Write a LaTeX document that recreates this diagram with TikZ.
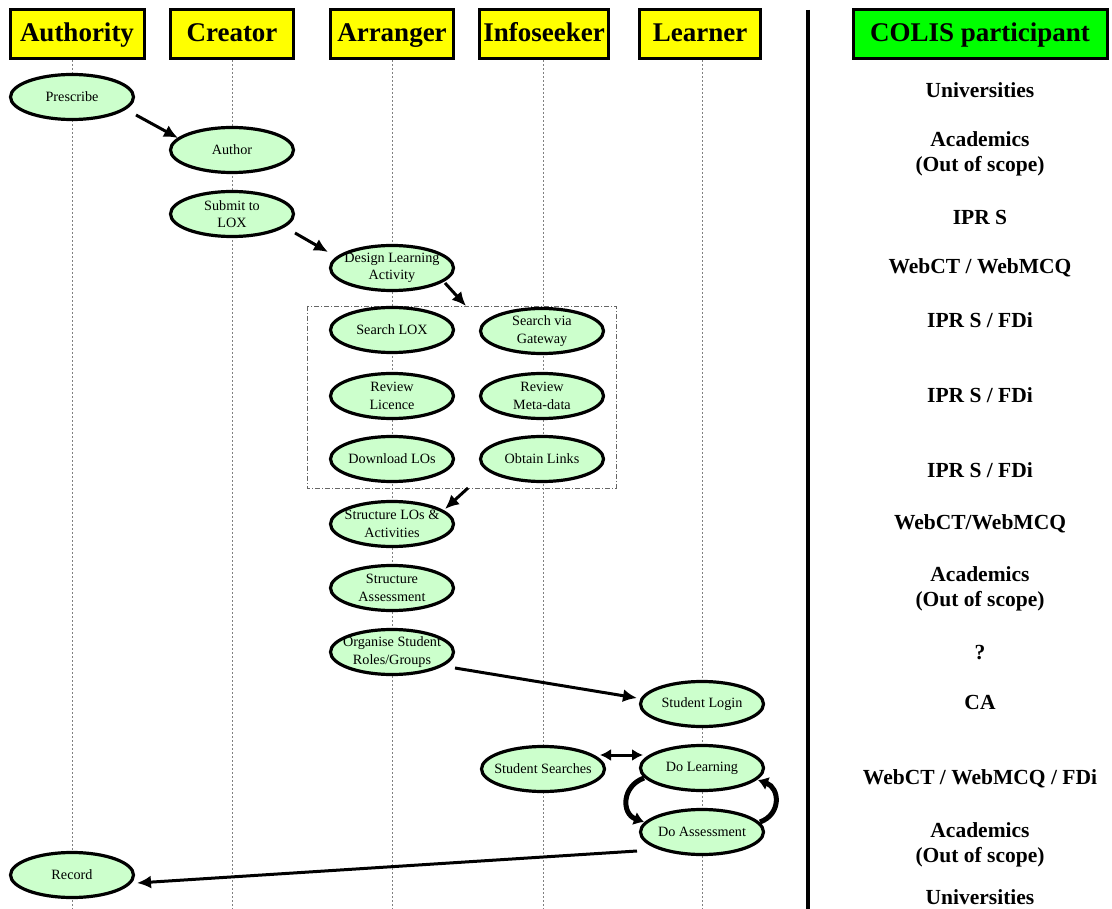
\documentclass[tikz,border=0pt]{standalone}
\usepackage{fontspec}
\setmainfont{Liberation Serif}
\usetikzlibrary{shapes.geometric,arrows.meta}

\definecolor{actgreen}{HTML}{CCFFCC}
\definecolor{roleyellow}{HTML}{FFFF00}
\definecolor{partygreen}{HTML}{00FF00}

\tikzset{
	role/.style={draw=black,line width=3pt,fill=roleyellow,minimum height=49pt,inner sep=0pt,text height=21pt,text depth=5pt,font=\fontsize{27}{28}\selectfont\bfseries},
	actlabel/.style={align=center,inner sep=0pt,font=\fontsize{14.2}{17.5}\selectfont},
	activity/.style={ellipse,draw=black,line width=3.2pt,fill=actgreen,minimum width=123pt,minimum height=45pt,inner sep=0pt,label={[actlabel]center:#1}},
	lifeline/.style={gray,dash pattern=on 2pt off 2pt,line width=0.6pt},
	flow/.style={line width=3pt,-{Latex[length=14pt,width=13pt]}},
	loopflow/.style={line width=5pt,-{Latex[length=10pt,width=14pt]}},
	party/.style={align=center,font=\fontsize{21.5}{25}\selectfont\bfseries},
}

\begin{document}
\begin{tikzpicture}[x=1pt,y=-1pt]
		\fill[white] (0,0) rectangle (1112,909);
		\useasboundingbox (0,0) rectangle (1112,909);

		% roles
		\node[role,minimum width=134pt] (authority) at (77,34) {Authority};
		\node[role,minimum width=123pt] (creator) at (232,34) {Creator};
		\node[role,minimum width=123pt] (arranger) at (392,34) {Arranger};
		\node[role,minimum width=129pt] (infoseeker) at (544,34) {Infoseeker};
		\node[role,minimum width=121pt] (learner) at (700,34) {Learner};
		\node[role,fill=partygreen,minimum width=254pt] (colis) at (980,34) {COLIS participant};

		% lifelines
		\coordinate (authend) at (72,909);
		\coordinate (creend) at (232,909);
		\coordinate (arrend) at (392,909);
		\coordinate (infend) at (543,909);
		\coordinate (leaend) at (702,909);
		\draw[lifeline] (authend |- authority.south) -- (authend);
		\draw[lifeline] (creator.south) -- (creend);
		\draw[lifeline] (arranger.south) -- (arrend);
		\draw[lifeline] (infend |- infoseeker.south) -- (infend);
		\draw[lifeline] (leaend |- learner.south) -- (leaend);

		% separator
		\coordinate (septop) at (808,10);
		\coordinate (sepbot) at (808,909);
		\draw[line width=3.5pt] (septop) -- (sepbot);

		% search box
		\draw[gray!80!black,dash pattern=on 5pt off 2pt on 1pt off 2pt,line width=0.7pt] (307,306) rectangle (616,488);
		\coordinate (boxtop) at (466,306);
		\coordinate (boxbot) at (468,488);

		% activities
		\node[activity={Prescribe}] (prescribe) at (72,97) {};
		\node[activity={Author}] (author) at (232,150) {};
		\node[activity={Submit to\\LOX}] (submit) at (232,214) {};
		\node[activity={Design Learning\\Activity}] (design) at (392,268) {};
		\node[activity={Search LOX}] (searchlox) at (392,330) {};
		\node[activity={Search via\\Gateway}] (searchgw) at (542,331) {};
		\node[activity={Review\\Licence}] (licence) at (392,396) {};
		\node[activity={Review\\Meta-data}] (metadata) at (542,396) {};
		\node[activity={Download LOs}] (download) at (392,459) {};
		\node[activity={Obtain Links}] (links) at (542,459) {};
		\node[activity={Structure LOs \&\\Activities}] (structlo) at (392,524) {};
		\node[activity={Structure\\Assessment}] (structas) at (392,588) {};
		\node[activity={Organise Student\\Roles/Groups}] (organise) at (392,652) {};
		\node[activity={Student Login}] (login) at (702,704) {};
		\node[activity={Student Searches}] (searches) at (543,769) {};
		\node[activity={Do Learning}] (learning) at (702,768) {};
		\node[activity={Do Assessment}] (assess) at (702,832) {};
		\node[activity={Record}] (record) at (72,875) {};

		% flows
		\draw[flow] ([shift={(64,18)}]prescribe.center) -- ([shift={(-54,-12)}]author.center);
		\draw[flow] ([shift={(63,19)}]submit.center) -- ([shift={(-64,-16)}]design.center);
		\draw[flow] ([shift={(53,15)}]design.center) -- (boxtop);
		\draw[flow] (boxbot) -- ([shift={(53,-15)}]structlo.center);
		\draw[flow] ([shift={(63,16)}]organise.center) -- ([shift={(-65,-6)}]login.center);
		\draw[line width=3pt,{Latex[length=11pt,width=12pt]}-{Latex[length=11pt,width=12pt]}] ([shift={(57,-14)}]searches.center) -- ([shift={(-59,-13)}]learning.center);
		\draw[flow] ([shift={(-65,19)}]assess.center) -- ([shift={(65,8)}]record.center);
		\draw[loopflow] ([shift={(-58,10)}]learning.center) to[out=200,in=160,looseness=1.4] ([shift={(-58,-10)}]assess.center);
		\draw[loopflow] ([shift={(58,-10)}]assess.center) to[out=20,in=-20,looseness=1.4] ([shift={(56,12)}]learning.center);

		% participants
		\node[party] (p1) at (980,90) {Universities};
		\node[party] (p2) at (980,154) {Academics\\(Out of scope)};
		\node[party] (p3) at (980,217) {IPR S};
		\node[party] (p4) at (980,268) {WebCT / WebMCQ};
		\node[party] (p5) at (980,320) {IPR S / FDi};
		\node[party] (p6) at (980,395) {IPR S / FDi};
		\node[party] (p7) at (980,470) {IPR S / FDi};
		\node[party] (p8) at (980,524) {WebCT/WebMCQ};
		\node[party] (p9) at (980,589) {Academics\\(Out of scope)};
		\node[party] (p10) at (980,653) {?};
		\node[party] (p11) at (980,702) {CA};
		\node[party] (p12) at (980,779) {WebCT / WebMCQ / FDi};
		\node[party] (p13) at (980,845) {Academics\\(Out of scope)};
		\node[party] (p14) at (980,897) {Universities};
	\end{tikzpicture}
\end{document}
